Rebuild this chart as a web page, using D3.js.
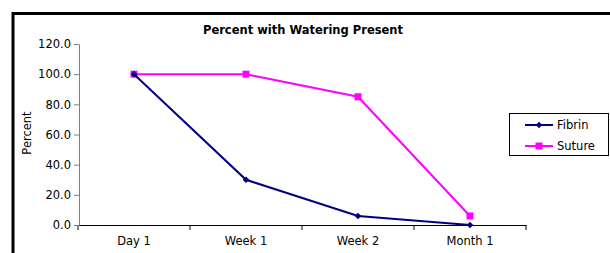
<!DOCTYPE html>
<html>
<head>
<meta charset="utf-8">
<script src="https://cdn.jsdelivr.net/npm/d3@7"></script>
<style>
body { margin: 0; background: #fff; }
svg { display: block; }
</style>
</head>
<body>
<script>
// data
var categories = ["Day 1", "Week 1", "Week 2", "Month 1"];
var fibrin = [100.0, 30.0, 6.0, 0.0];
var suture = [100.0, 100.0, 85.0, 6.0];
var yTicks = [0, 20, 40, 60, 80, 100, 120];
var seriesNames = ["Fibrin", "Suture"];

var font = "Tahoma, 'DejaVu Sans', sans-serif";

var svg = d3.select("body")
	.append("svg")
	.attr("width", 610)
	.attr("height", 253);

// outer chart frame (runs off right and bottom)
svg.append("rect")
	.attr("x", 13)
	.attr("y", 13.5)
	.attr("width", 700)
	.attr("height", 300)
	.attr("fill", "#fff")
	.attr("stroke", "#000")
	.attr("stroke-width", 3);

var xScale = d3.scaleBand()
	.domain(categories)
	.range([78, 526]);

var yScale = d3.scaleLinear()
	.domain([0, 120])
	.range([225, 44]);

// x axis
var xAxis = svg.append("g")
	.attr("transform", "translate(0,225)")
	.call(d3.axisBottom(xScale).tickSize(0).tickPadding(12));
xAxis.select(".domain").attr("stroke", "#000");
xAxis.selectAll("text")
	.attr("font-family", font)
	.attr("font-size", 11.5)
	.attr("fill", "#000");
// tick marks between categories
xAxis.selectAll(".sep")
	.data(d3.range(categories.length + 1))
	.enter().append("line")
	.attr("x1", function(i) { return 78 + i * xScale.step(); })
	.attr("x2", function(i) { return 78 + i * xScale.step(); })
	.attr("y1", 0)
	.attr("y2", 5)
	.attr("stroke", "#000");

// y axis
var yAxis = svg.append("g")
	.attr("transform", "translate(79,0)")
	.call(d3.axisLeft(yScale).tickValues(yTicks).tickSize(5).tickSizeOuter(0).tickPadding(3).tickFormat(d3.format(".1f")));
yAxis.select(".domain").attr("stroke", "#808080");
yAxis.selectAll(".tick line").attr("stroke", "#808080");
yAxis.selectAll("text")
	.attr("font-family", font)
	.attr("font-size", 11.5)
	.attr("fill", "#000");

// axis title
svg.append("text")
	.attr("transform", "translate(31,133) rotate(-90)")
	.attr("text-anchor", "middle")
	.attr("font-family", font)
	.attr("font-size", 11.5)
	.text("Percent");

// chart title
svg.append("text")
	.attr("x", 303)
	.attr("y", 34)
	.attr("text-anchor", "middle")
	.attr("font-family", font)
	.attr("font-size", 11.5)
	.attr("font-weight", "bold")
	.text("Percent with Watering Present");

var line = d3.line()
	.x(function(d, i) { return xScale(categories[i]) + xScale.bandwidth() / 2; })
	.y(function(d) { return yScale(d); });

var series = [
	{name: seriesNames[0], values: fibrin, color: "#000080", shape: d3.symbolSquare, size: 22, rot: 45},
	{name: seriesNames[1], values: suture, color: "#FF00FF", shape: d3.symbolSquare, size: 49, rot: 0}
];

// suture first, fibrin on top
series.slice().reverse().forEach(function(s) {
	svg.append("path")
		.datum(s.values)
		.attr("d", line)
		.attr("fill", "none")
		.attr("stroke", s.color)
		.attr("stroke-width", 2);
	svg.selectAll(null)
		.data(s.values)
		.enter().append("path")
		.attr("d", d3.symbol().type(s.shape).size(s.size))
		.attr("transform", function(d, i) {
			return "translate(" + (xScale(categories[i]) + xScale.bandwidth() / 2) + "," + yScale(d) + ") rotate(" + s.rot + ")";
		})
		.attr("fill", s.color);
});

// legend
svg.append("rect")
	.attr("x", 509.5)
	.attr("y", 113.5)
	.attr("width", 99)
	.attr("height", 42)
	.attr("fill", "#fff")
	.attr("stroke", "#000");

var legend = svg.selectAll(".legend")
	.data(series)
	.enter().append("g")
	.attr("transform", function(d, i) { return "translate(0," + (125 + i * 21) + ")"; });

legend.append("line")
	.attr("x1", 525)
	.attr("x2", 553)
	.attr("stroke", function(d) { return d.color; })
	.attr("stroke-width", 2);
legend.append("path")
	.attr("d", function(d) { return d3.symbol().type(d.shape).size(d.size)(); })
	.attr("transform", function(d) { return "translate(539,0) rotate(" + d.rot + ")"; })
	.attr("fill", function(d) { return d.color; });
legend.append("text")
	.attr("x", 557)
	.attr("dy", "0.35em")
	.attr("font-family", font)
	.attr("font-size", 11.5)
	.text(function(d) { return d.name; });
</script>
</body>
</html>
